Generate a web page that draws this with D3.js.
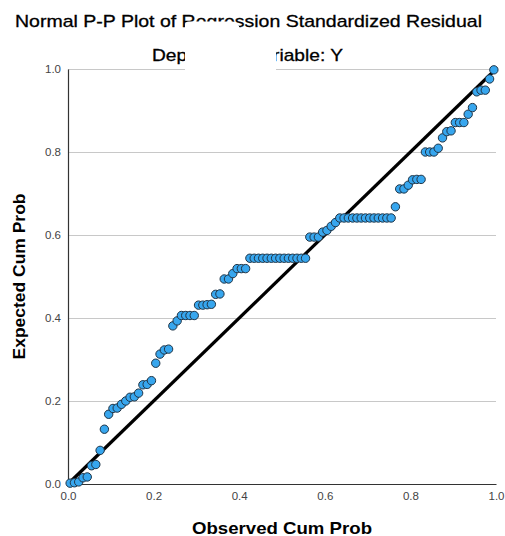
<!DOCTYPE html>
<html>
<head>
<meta charset="utf-8">
<script src="https://cdn.jsdelivr.net/npm/d3@7"></script>
<style>
  html, body { margin: 0; padding: 0; background: #fff; }
  svg { display: block; font-family: "Liberation Sans", Arial, sans-serif; }
</style>
</head>
<body>
<svg id="chart" width="505" height="536"></svg>
<script>
// ---- Data ----
const chartTitle = "Normal P-P Plot of Regression Standardized Residual";
const chartSubtitle = "Dependent Variable: Y";
const xAxisTitle = "Observed Cum Prob";
const yAxisTitle = "Expected Cum Prob";
const tickValues = [0.0, 0.2, 0.4, 0.6, 0.8, 1.0];

const observedCumProb = [
  0.005, 0.015, 0.025, 0.035, 0.045, 0.055, 0.065, 0.075, 0.085, 0.095,
  0.105, 0.115, 0.125, 0.135, 0.145, 0.155, 0.165, 0.175, 0.185, 0.195,
  0.205, 0.215, 0.225, 0.235, 0.245, 0.255, 0.265, 0.275, 0.285, 0.295,
  0.305, 0.315, 0.325, 0.335, 0.345, 0.355, 0.365, 0.375, 0.385, 0.395,
  0.405, 0.415, 0.425, 0.435, 0.445, 0.455, 0.465, 0.475, 0.485, 0.495,
  0.505, 0.515, 0.525, 0.535, 0.545, 0.555, 0.565, 0.575, 0.585, 0.595,
  0.605, 0.615, 0.625, 0.635, 0.645, 0.655, 0.665, 0.675, 0.685, 0.695,
  0.705, 0.715, 0.725, 0.735, 0.745, 0.755, 0.765, 0.775, 0.785, 0.795,
  0.805, 0.815, 0.825, 0.835, 0.845, 0.855, 0.865, 0.875, 0.885, 0.895,
  0.905, 0.915, 0.925, 0.935, 0.945, 0.955, 0.965, 0.975, 0.985, 0.995
];
const expectedCumProb = [
  0.002, 0.003, 0.005, 0.015, 0.017, 0.044, 0.047, 0.081, 0.132, 0.168,
  0.182, 0.183, 0.192, 0.200, 0.209, 0.210, 0.219, 0.239, 0.240, 0.249,
  0.291, 0.313, 0.323, 0.325, 0.381, 0.393, 0.406, 0.406, 0.406, 0.406,
  0.431, 0.431, 0.432, 0.433, 0.457, 0.458, 0.494, 0.494, 0.507, 0.519,
  0.519, 0.519, 0.544, 0.544, 0.544, 0.544, 0.544, 0.544, 0.544, 0.544,
  0.544, 0.544, 0.544, 0.544, 0.544, 0.544, 0.595, 0.595, 0.595, 0.607,
  0.611, 0.621, 0.630, 0.641, 0.641, 0.641, 0.641, 0.641, 0.641, 0.641,
  0.641, 0.641, 0.641, 0.641, 0.641, 0.641, 0.668, 0.711, 0.711, 0.720,
  0.733, 0.734, 0.734, 0.800, 0.800, 0.800, 0.809, 0.834, 0.849, 0.851,
  0.871, 0.871, 0.871, 0.891, 0.907, 0.945, 0.949, 0.949, 0.976, 0.998
];
const diagonal = [0, 1];

// ---- Layout ----
const svg = d3.select("#chart");
const plotLeft = 68, plotRight = 496, plotTop = 69, plotBottom = 484;

const x = d3.scaleLinear().domain([0, 1]).range([plotLeft, plotRight]);
const y = d3.scaleLinear().domain([0, 1]).range([plotBottom, plotTop]);

// gridlines
svg.append("g")
  .selectAll("line")
  .data(tickValues.filter(d => d > 0))
  .join("line")
  .attr("x1", x(0)).attr("x2", x(1))
  .attr("y1", d => y(d)).attr("y2", d => y(d))
  .attr("stroke", "#c8c8c8").attr("stroke-width", 1)
  .attr("shape-rendering", "crispEdges");

// axes
const xAxis = d3.axisBottom(x).tickValues(tickValues).tickFormat(d3.format(".1f")).tickSize(0).tickPadding(8);
const yAxis = d3.axisLeft(y).tickValues(tickValues).tickFormat(d3.format(".1f")).tickSize(0).tickPadding(7);

const gx = svg.append("g").attr("transform", `translate(0,${plotBottom})`).call(xAxis);
const gy = svg.append("g").attr("transform", `translate(${plotLeft},0)`).call(yAxis);
[gx, gy].forEach(g => {
  g.select(".domain").attr("stroke", "#333").attr("stroke-width", 1.2);
  g.selectAll("text").attr("font-size", 11.5).attr("fill", "#444")
    .attr("font-family", "'Liberation Sans', Arial, sans-serif");
});

// diagonal reference line
svg.append("line")
  .attr("x1", x(diagonal[0])).attr("y1", y(diagonal[0]))
  .attr("x2", x(diagonal[1])).attr("y2", y(diagonal[1]))
  .attr("stroke", "#000").attr("stroke-width", 3.2);

// points
svg.append("g")
  .selectAll("circle")
  .data(observedCumProb.map((v, i) => [v, expectedCumProb[i]]))
  .join("circle")
  .attr("cx", d => x(d[0]))
  .attr("cy", d => y(d[1]))
  .attr("r", 4.2)
  .attr("fill", "#37a6ee")
  .attr("stroke", "#1f3446")
  .attr("stroke-width", 1);

// titles
svg.append("text")
  .attr("x", 248.5).attr("y", 27)
  .attr("text-anchor", "middle")
  .attr("font-size", 17).attr("fill", "#000")
  .attr("stroke", "#000").attr("stroke-width", 0.3)
  .attr("textLength", 467).attr("lengthAdjust", "spacingAndGlyphs")
  .text(chartTitle);

svg.append("text")
  .attr("x", 247.5).attr("y", 61)
  .attr("text-anchor", "middle")
  .attr("font-size", 17).attr("fill", "#000")
  .attr("stroke", "#000").attr("stroke-width", 0.3)
  .attr("textLength", 191).attr("lengthAdjust", "spacingAndGlyphs")
  .text(chartSubtitle);

// white patch covering part of the titles (as in the reference)
svg.append("path")
  .attr("d", "M185,73 V25 Q185,21.5 189,21.5 H232 Q239,21.5 240,30 H276 V73 Z")
  .attr("fill", "#fff");

svg.append("text")
  .attr("x", (plotLeft + plotRight) / 2).attr("y", 533.5)
  .attr("text-anchor", "middle")
  .attr("font-size", 17).attr("font-weight", "bold").attr("fill", "#000")
  .attr("textLength", 180).attr("lengthAdjust", "spacingAndGlyphs")
  .text(xAxisTitle);

svg.append("text")
  .attr("transform", `translate(25,${(plotTop + plotBottom) / 2}) rotate(-90)`)
  .attr("text-anchor", "middle")
  .attr("font-size", 17).attr("font-weight", "bold").attr("fill", "#000")
  .attr("textLength", 166).attr("lengthAdjust", "spacingAndGlyphs")
  .text(yAxisTitle);
</script>
</body>
</html>
